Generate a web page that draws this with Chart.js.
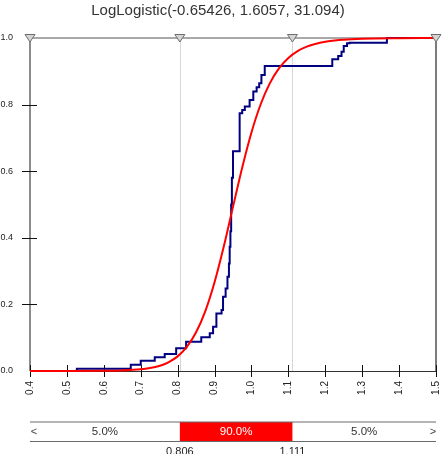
<!DOCTYPE html>
<html>
<head>
<meta charset="utf-8">
<script src="https://cdn.jsdelivr.net/npm/chart.js@4/dist/chart.umd.min.js"></script>
<style>
html,body{margin:0;padding:0;background:#fff;}
#wrap{width:444px;height:454px;position:relative;}
</style>
</head>
<body>
<div id="wrap"><canvas id="c" width="444" height="454"></canvas></div>
<script>
// ---- data ----
const titleText = 'LogLogistic(-0.65426, 1.6057, 31.094)';
const xTickMin = 0.4, xTickMax = 1.5, xTickStep = 0.1;
const yTickMin = 0.0, yTickMax = 1.0, yTickStep = 0.2;

// empirical CDF (step points: x where the step happens, F after the step)
const empX = [0.40,0.527,0.673,0.700,0.738,0.765,0.796,0.823,0.864,0.887,0.896,0.905,0.919,0.923,0.930,0.935,0.939,0.941,0.943,0.945,0.947,0.950,0.968,0.975,0.982,0.995,1.005,1.014,1.021,1.027,1.036,1.219,1.235,1.244,1.250,1.259,1.266,1.367,1.50];
const empF = [0.000,0.007,0.019,0.031,0.041,0.051,0.068,0.088,0.101,0.113,0.133,0.173,0.183,0.223,0.248,0.283,0.323,0.373,0.420,0.500,0.580,0.660,0.774,0.784,0.794,0.814,0.839,0.852,0.864,0.889,0.916,0.936,0.946,0.959,0.976,0.984,0.986,1.000,1.000];

// fitted curve
const fitX = [0.40,0.50,0.60,0.65,0.70,0.725,0.75,0.775,0.80,0.825,0.85,0.875,0.90,0.925,0.95,0.975,1.00,1.025,1.05,1.075,1.10,1.125,1.15,1.20,1.25,1.30,1.40,1.50];
const fitF = [0.0000,0.0000,0.0005,0.0016,0.0050,0.0088,0.0152,0.0261,0.0439,0.0724,0.1162,0.1799,0.2665,0.3738,0.4930,0.6112,0.7163,0.8010,0.8644,0.9093,0.9400,0.9605,0.9740,0.9887,0.9950,0.9978,0.9995,0.9999];

// delimiters and percentages in the bottom bar
const markers = [0.806, 1.111];
const markerLabels = ['0.806', '1.111'];
const percents = ['5.0%', '90.0%', '5.0%'];
const triangleX = [0.4, 0.806, 1.111, 1.5];

const FONT = '"Liberation Sans", Arial, sans-serif';

const overlay = {
  id: 'overlay',
  beforeDatasetsDraw(chart) {
    const {ctx, chartArea: a, scales: {x, y}} = chart;
    ctx.save();
    // light marker lines
    ctx.strokeStyle = '#d6d6d6'; ctx.lineWidth = 1;
    markers.forEach(m => {
      const px = Math.round(x.getPixelForValue(m)) + 0.5;
      ctx.beginPath(); ctx.moveTo(px, a.top); ctx.lineTo(px, a.bottom); ctx.stroke();
    });
    // frame
    ctx.strokeStyle = '#8c8c8c'; ctx.lineWidth = 2;
    ctx.beginPath(); ctx.moveTo(a.left, a.top); ctx.lineTo(a.left, a.bottom); ctx.stroke();
    ctx.lineWidth = 1.5;
    ctx.beginPath(); ctx.moveTo(a.left, a.top); ctx.lineTo(a.right, a.top); ctx.stroke();
    ctx.strokeStyle = '#505050'; ctx.lineWidth = 1.5;
    ctx.beginPath(); ctx.moveTo(a.right, a.top); ctx.lineTo(a.right, a.bottom); ctx.stroke();
    ctx.strokeStyle = '#333'; ctx.lineWidth = 1;
    ctx.beginPath(); ctx.moveTo(a.left, a.bottom + 0.5); ctx.lineTo(a.right, a.bottom + 0.5); ctx.stroke();
    // tick marks crossing the axes
    ctx.strokeStyle = '#111'; ctx.lineWidth = 1;
    x.ticks.forEach(t => {
      const px = Math.round(x.getPixelForValue(t.value)) + 0.5;
      ctx.beginPath(); ctx.moveTo(px, a.bottom - 6); ctx.lineTo(px, a.bottom + 6); ctx.stroke();
    });
    y.ticks.forEach(t => {
      if (t.value >= 0.999 || t.value <= 0.001) return;
      const py = Math.round(y.getPixelForValue(t.value)) + 0.5;
      ctx.beginPath(); ctx.moveTo(a.left - 8, py); ctx.lineTo(a.left + 7, py); ctx.stroke();
    });
    ctx.restore();
  },
  afterDatasetsDraw(chart) {
    const {ctx, chartArea: a, scales: {x}} = chart;
    ctx.save();
    ctx.fillStyle = '#d4d4d4'; ctx.strokeStyle = '#6e6e6e'; ctx.lineWidth = 1;
    triangleX.forEach(v => {
      const px = x.getPixelForValue(v);
      ctx.beginPath();
      ctx.moveTo(px - 5, a.top - 3.5);
      ctx.lineTo(px + 5, a.top - 3.5);
      ctx.lineTo(px, a.top + 4);
      ctx.closePath(); ctx.fill(); ctx.stroke();
    });
    ctx.restore();
  },
  afterDraw(chart) {
    const {ctx, chartArea: a, scales: {x}} = chart;
    const top = 422, bot = 441.5;
    const m0 = x.getPixelForValue(markers[0]), m1 = x.getPixelForValue(markers[1]);
    ctx.save();
    ctx.fillStyle = '#ff0000';
    ctx.fillRect(m0, top, m1 - m0, bot - top);
    ctx.strokeStyle = '#6a6a6a'; ctx.lineWidth = 1.2;
    ctx.beginPath(); ctx.moveTo(a.left, top); ctx.lineTo(a.right, top); ctx.stroke();
    ctx.beginPath(); ctx.moveTo(a.left, bot); ctx.lineTo(a.right, bot); ctx.stroke();
    ctx.font = '11.5px ' + FONT;
    ctx.textAlign = 'center'; ctx.textBaseline = 'middle';
    const mid = (top + bot) / 2 + 0.5;
    ctx.fillStyle = '#333';
    ctx.fillText(percents[0], (a.left + m0) / 2, mid);
    ctx.fillText(percents[2], (m1 + a.right) / 2, mid);
    ctx.fillStyle = '#ffffff';
    ctx.fillText(percents[1], (m0 + m1) / 2, mid);
    ctx.fillStyle = '#444';
    ctx.font = '11px ' + FONT;
    ctx.fillText('<', a.left + 4, mid);
    ctx.fillText('>', a.right - 3, mid);
    ctx.fillStyle = '#222';
    ctx.textBaseline = 'alphabetic';
    ctx.fillText(markerLabels[0], m0, 455);
    ctx.fillText(markerLabels[1], m1, 455);
    ctx.restore();
  }
};

new Chart(document.getElementById('c'), {
  type: 'line',
  data: {
    datasets: [
      {
        label: 'Empirical',
        data: empX.map((v, i) => ({x: v, y: empF[i]})),
        borderColor: '#000080',
        borderWidth: 2,
        stepped: true,
        pointRadius: 0,
        fill: false,
        clip: 3,
        order: 2
      },
      {
        label: 'Fit',
        data: fitX.map((v, i) => ({x: v, y: fitF[i]})),
        borderColor: '#ff0000',
        borderWidth: 2,
        cubicInterpolationMode: 'monotone',
        pointRadius: 0,
        fill: false,
        clip: 3,
        order: 1
      }
    ]
  },
  options: {
    responsive: false,
    animation: false,
    events: [],
    layout: {padding: {top: 0, left: 0, right: 8, bottom: 0}},
    plugins: {
      legend: {display: false},
      tooltip: {enabled: false},
      title: {
        display: true,
        text: titleText,
        color: '#333',
        font: {family: FONT, size: 15, weight: 'normal'},
        padding: {top: 2, bottom: 18}
      }
    },
    scales: {
      x: {
        type: 'linear',
        min: xTickMin, max: xTickMax,
        grid: {display: false},
        border: {display: false},
        ticks: {
          stepSize: xTickStep,
          autoSkip: false,
          minRotation: 90, maxRotation: 90,
          padding: 2,
          color: '#222',
          font: {family: FONT, size: 10},
          callback: v => Number(v).toFixed(1)
        },
        afterFit: s => { s.height = 83; s.paddingLeft = 0; s.paddingRight = 0; }
      },
      y: {
        type: 'linear',
        min: yTickMin, max: yTickMax,
        grid: {display: false},
        border: {display: false},
        ticks: {
          stepSize: yTickStep,
          padding: 9,
          color: '#222',
          font: {family: FONT, size: 9},
          callback: v => Number(v).toFixed(1)
        },
        afterFit: s => { s.width = 30; s.paddingTop = 0; s.paddingBottom = 0; }
      }
    }
  },
  plugins: [overlay]
});
</script>
</body>
</html>
